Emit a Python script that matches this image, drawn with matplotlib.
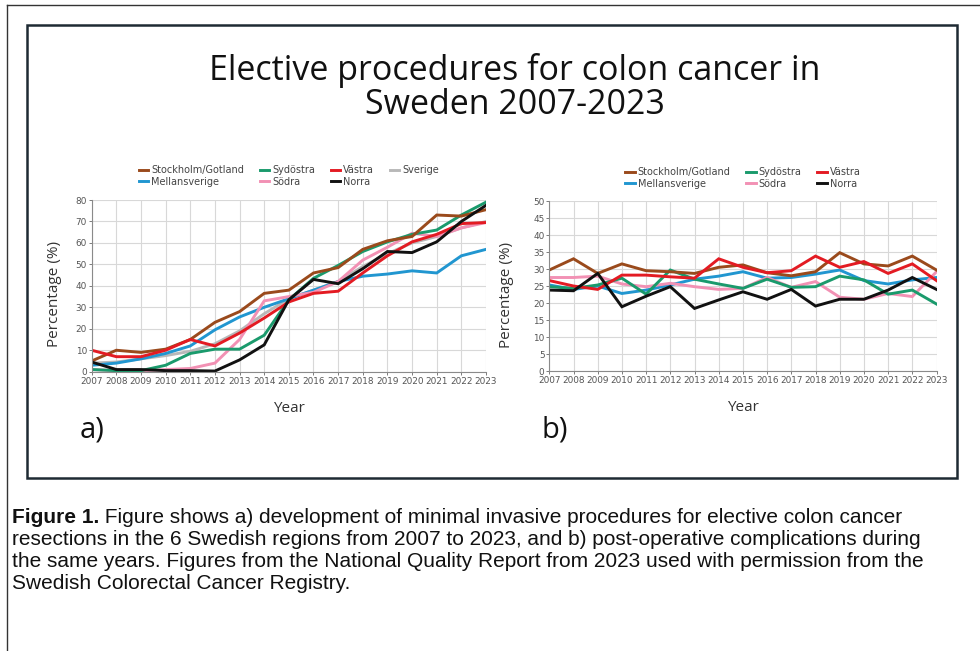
import matplotlib.pyplot as plt
from matplotlib.patches import Rectangle
from matplotlib.lines import Line2D

years = list(range(2007, 2024))

regions = ['Stockholm/Gotland', 'Sydöstra', 'Västra', 'Sverige',
           'Mellansverige', 'Södra', 'Norra']
colors = {
    'Stockholm/Gotland': '#9a4a1c',
    'Sydöstra': '#1a9a6c',
    'Västra': '#e31b23',
    'Sverige': '#b8b8b8',
    'Mellansverige': '#2196d0',
    'Södra': '#f291b4',
    'Norra': '#111111',
}

# a) minimalinvasiv kirurgi, andel (%)
sthlm_a = [5, 10, 9, 10.5, 15, 23, 28, 36.5, 38, 46, 48.5, 57, 61, 63, 73, 72.5, 75.5]
sydostra_a = [1, 0.5, 0.5, 3, 8.5, 10.5, 10.5, 17, 33.5, 43.5, 49.5, 56, 60.5, 64, 66, 73, 79]
vastra_a = [10, 7, 7, 10, 15, 12, 18, 25, 32.5, 36.5, 37.5, 46, 54, 60.5, 64, 69, 69.5]
sverige_a = [4, 4.5, 6, 7.5, 9.5, 13, 19, 27, 34, 38, 42, 49, 55, 60, 63, 67, 70]
mellan_a = [3, 4, 6, 8.5, 12, 19.5, 25.5, 30, 34, 38, 42, 44.5, 45.5, 47, 46, 54, 57]
sodra_a = [1, 0.5, 0.5, 1, 1.5, 4, 15, 33, 35, 37, 42, 52, 58, 64.5, 63, 67, 69.5]
norra_a = [4.5, 1, 1, 0.5, 0.5, 0.3, 5.5, 12.5, 33.5, 43, 41, 48, 56, 55.5, 60.5, 70, 77.5]

# b) postoperativa komplikationer, andel (%)
sthlm_b = [29.7, 33, 28.7, 31.5, 29.5, 29.2, 28.7, 30.5, 31.2, 28.9, 28, 29.2, 34.8, 31.5, 30.9, 33.8, 29.7]
sydostra_b = [24.8, 24.3, 25.3, 27.3, 22.6, 29.7, 27, 25.6, 24.3, 27, 24.6, 24.8, 27.9, 26.8, 22.6, 23.8, 19.7]
vastra_b = [26.6, 25, 24, 28.2, 28.2, 27.7, 27.3, 33, 30.5, 28.9, 29.5, 33.8, 30.5, 32.2, 28.7, 31.5, 26.6]
mellan_b = [25.3, 24, 25, 22.8, 23.8, 25.3, 27, 27.9, 29.2, 27.3, 27.5, 28.5, 29.7, 26.6, 25.6, 26.8, 27.5]
sodra_b = [27.5, 27.5, 27.9, 25.6, 24.8, 25.8, 24.8, 24, 24.3, 27.5, 24.6, 26.3, 21.7, 21.1, 22.8, 21.9, 29.2]
norra_b = [23.8, 23.6, 28.7, 18.9, 22, 24.8, 18.4, 20.9, 23.3, 21.1, 24, 19.1, 21.1, 21.1, 23.8, 27.5, 24]

series_a = {
    'Stockholm/Gotland': sthlm_a, 'Sydöstra': sydostra_a, 'Västra': vastra_a,
    'Sverige': sverige_a, 'Mellansverige': mellan_a, 'Södra': sodra_a, 'Norra': norra_a,
}
series_b = {
    'Stockholm/Gotland': sthlm_b, 'Sydöstra': sydostra_b, 'Västra': vastra_b,
    'Mellansverige': mellan_b, 'Södra': sodra_b, 'Norra': norra_b,
}

title_lines = ['Elective procedures for colon cancer in', 'Sweden 2007-2023']
caption_bold = 'Figure 1.'
caption_lines = [
    ' Figure shows a) development of minimal invasive procedures for elective colon cancer',
    'resections in the 6 Swedish regions from 2007 to 2023, and b) post-operative complications during',
    'the same years. Figures from the National Quality Report from 2023 used with permission from the',
    'Swedish Colorectal Cancer Registry.',
]

W, H = 980, 651
fig = plt.figure(figsize=(W / 100, H / 100), dpi=100)


def fy(y):
    # pixel rad (uppifrån) -> figurkoordinat
    return 1 - y / H


def px_axes(x0, y0, x1, y1):
    return fig.add_axes([x0 / W, fy(y1), (x1 - x0) / W, (y1 - y0) / H])


# ramar
fig.add_artist(Line2D([7 / W, 7 / W], [0, fy(5)], transform=fig.transFigure,
                      color='#333333', lw=1))
fig.add_artist(Line2D([7 / W, 1], [fy(5), fy(5)], transform=fig.transFigure,
                      color='#333333', lw=1))
fig.add_artist(Rectangle((27 / W, fy(478)), 930 / W, 453 / H, transform=fig.transFigure,
                         fill=False, edgecolor='#1e2a33', lw=1.8))

for i, line in enumerate(title_lines):
    fig.text(515 / W, fy(80 + 34 * i), line, ha='center', va='baseline',
             fontsize=24.5, family='Open Sans', color='#111111')


def draw_panel(ax, series, ymax, ystep, order, ncol, legend_y):
    for name in order:
        ax.plot(years, series[name], color=colors[name], lw=2.1, label=name,
                solid_joinstyle='miter')
    ax.set_xlim(2007, 2023)
    ax.set_ylim(0, ymax)
    ax.set_xticks(years)
    ax.set_yticks(range(0, ymax + 1, ystep))
    ax.grid(True, color='#d8d8d8', lw=0.8)
    ax.set_axisbelow(True)
    for s in ['top', 'right']:
        ax.spines[s].set_visible(False)
    for s in ['left', 'bottom']:
        ax.spines[s].set_color('#8a8a8a')
        ax.spines[s].set_linewidth(0.8)
    ax.tick_params(labelsize=6.4, colors='#666666', length=2, width=0.6, pad=1.5)
    for lab in ax.get_xticklabels() + ax.get_yticklabels():
        lab.set_color('#555555')
    ax.set_ylabel('Percentage (%)', fontsize=11, family='Open Sans', color='#333333')
    ax.set_xlabel('Year', fontsize=11, family='Open Sans', color='#333333')
    ax.xaxis.set_label_coords(0.5, -0.17)

    # legenden fylls kolumnvis, sortera så raderna blir som i tabellen
    handles = {h.get_label(): h for h in ax.get_lines()}
    names = [n for n in regions if n in series]
    rows = [names[:ncol], names[ncol:]]
    col_order = []
    for c in range(ncol):
        for r in rows:
            if c < len(r):
                col_order.append(r[c])
    ax.legend([handles[n] for n in col_order], col_order, ncol=ncol,
              loc='center', bbox_to_anchor=(0.5, legend_y), frameon=False,
              fontsize=7, handlelength=1.0, handletextpad=0.3, columnspacing=1.6,
              labelspacing=0.15, borderaxespad=0, labelcolor='#444444')


draw_order = ['Sverige', 'Mellansverige', 'Södra', 'Sydöstra', 'Stockholm/Gotland',
              'Västra', 'Norra']

ax_a = px_axes(91.7, 200, 486, 371.7)
draw_panel(ax_a, series_a, 80, 10, draw_order, 4, 1.14)
ax_a.yaxis.set_label_coords(-0.075, 0.45)

ax_b = px_axes(549.3, 201, 936.5, 371)
draw_panel(ax_b, series_b, 50, 5, [n for n in draw_order if n != 'Sverige'], 3, 1.135)
ax_b.yaxis.set_label_coords(-0.09, 0.45)

fig.text(92 / W, fy(430), 'a)', ha='center', va='center', fontsize=21,
         family='Open Sans', color='#111111')
fig.text(555 / W, fy(430), 'b)', ha='center', va='center', fontsize=21,
         family='Open Sans', color='#111111')

# figurtext
cap_x = 12 / W
cap_kw = dict(fontsize=15, family='Liberation Sans', color='#111111', va='baseline')
t_bold = fig.text(cap_x, fy(523), caption_bold, fontweight='bold', **cap_kw)
t_rest = fig.text(cap_x, fy(523), caption_lines[0], **cap_kw)
for i, line in enumerate(caption_lines[1:]):
    fig.text(cap_x, fy(545 + 22 * i), line, **cap_kw)

# fortsättningen av första raden börjar där fetstilen slutar
fig.canvas.draw()
bb = t_bold.get_window_extent(fig.canvas.get_renderer())
t_rest.set_x(bb.x1 / W)

fig.savefig('out.png', dpi=100)
